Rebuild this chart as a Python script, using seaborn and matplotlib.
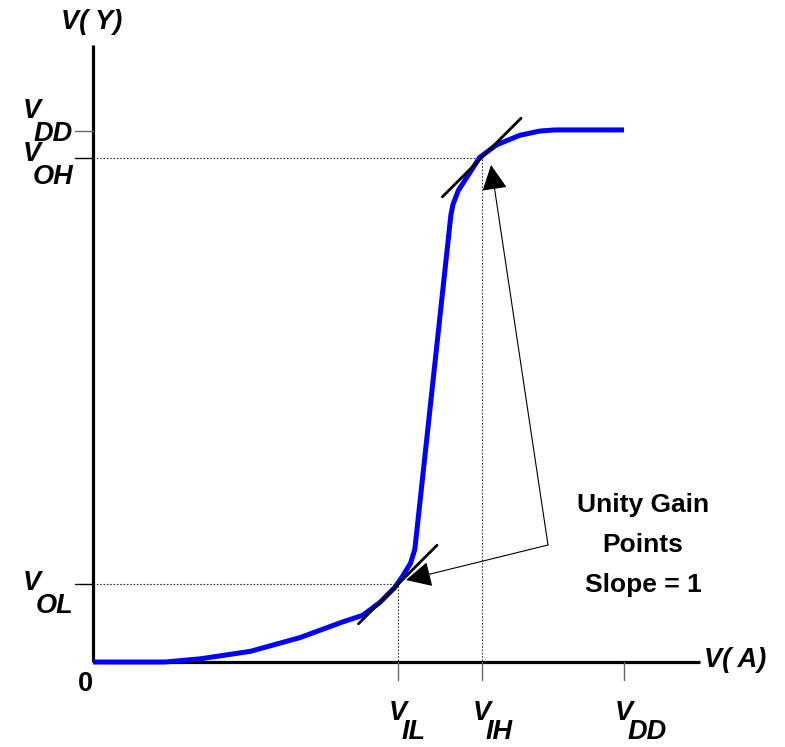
import matplotlib
matplotlib.use("Agg")
import matplotlib.pyplot as plt
import seaborn as sns
import numpy as np

# transfer curve of the inverter, volts (VDD = 5)
v_a = [0.0, 0.68, 1.01, 1.48, 1.95, 2.33, 2.54, 2.70, 2.84, 2.91, 2.99,
       3.03, 3.05, 3.37, 3.39, 3.44, 3.55, 3.64, 3.80, 4.02, 4.21, 4.35, 5.0]
v_y = [0.0, 0.0, 0.03, 0.10, 0.23, 0.37, 0.44, 0.56, 0.70, 0.80, 0.93,
       1.06, 1.24, 4.21, 4.31, 4.44, 4.61, 4.75, 4.87, 4.96, 5.0, 5.01, 5.01]

VDD = 5.0
VIL, VOL = 2.87, 0.73
VIH, VOH = 3.66, 4.75

# tick labels: (main letter, subscript)
y_tick_labels = {"VDD": ("V", "DD"), "VOH": ("V", "OH"), "VOL": ("V", "OL")}
x_tick_labels = {"VIL": ("V", "IL"), "VIH": ("V", "IH"), "VDD": ("V", "DD")}

W, H = 785, 747
X0, Y0 = 93, 662
S = 531 / 5.0  # pixels per volt


def px(x, y):
    # picture pixel -> data coords
    return (x - X0) / S, (Y0 - y) / S


sns.set_theme(style="white")
plt.rcParams['font.family'] = ['Liberation Sans', 'DejaVu Sans']

fig = plt.figure(figsize=(W / 100, H / 100), dpi=100)
ax = fig.add_axes([0, 0, 1, 1])
ax.set_xlim(px(0, 0)[0], px(W, 0)[0])
ax.set_ylim(px(0, H)[1], px(0, 0)[1])
ax.axis("off")

# axes lines
ax.plot([0, 0], [0, px(0, 45)[1]], color="black", lw=2.3, solid_capstyle="butt")
ax.plot([0, px(700, 0)[0]], [0, 0], color="black", lw=2.3, solid_capstyle="butt")

# dotted guides
ax.plot([0, VIH, VIH], [VOH, VOH, 0], color="#333333", lw=0.8, ls=(0, (1.5, 1.5)))
ax.plot([0, VIL, VIL], [VOL, VOL, 0], color="#333333", lw=0.8, ls=(0, (1.5, 1.5)))

# ticks
tk = 18 / S
ax.plot([-tk, 0], [VDD, VDD], color="#666666", lw=1)
ax.plot([-tk, 0], [VOH, VOH], color="black", lw=1)
ax.plot([-tk, 0], [VOL, VOL], color="black", lw=1)
for xv in [VIL, VIH, VDD]:
    ax.plot([xv, xv], [0, -tk], color="#666666", lw=1)

# curve
sns.lineplot(x=v_a, y=v_y, sort=False, color="blue", lw=3.6, ax=ax,
             solid_joinstyle="round", solid_capstyle="butt")

# unity gain tangents
d = 0.37
for xv, yv in [(VIL, VOL), (VIH, VOH)]:
    ax.plot([xv - d, xv + d], [yv - d, yv + d], color="black", lw=2.0,
            solid_capstyle="round")

# arrows to unity gain points
base = px(548, 545)
for tip in [px(491, 165), px(406, 580)]:
    ax.annotate("", xy=tip, xytext=base,
                arrowprops=dict(arrowstyle="-|>,head_length=1.0,head_width=0.5",
                                mutation_scale=16, color="black", lw=0.8,
                                shrinkA=0, shrinkB=0))

fs = 19.5
tx = dict(fontsize=fs, fontweight="bold", fontstyle="italic", color="black")

ax.text(*px(92, 22), "V( Y)", ha="center", va="center", **tx)
ax.text(*px(735, 660), "V( A)", ha="center", va="center", **tx)
ax.text(*px(85, 684), "0", ha="center", va="center", fontsize=fs,
        fontweight="bold", color="black")

# y labels with subscripts
for key, (ypx) in [("VDD", 111), ("VOH", 154), ("VOL", 583)]:
    m, sub = y_tick_labels[key]
    ax.text(*px(32, ypx), m, ha="center", va="center", **tx)
    ax.text(*px(73, ypx + 23), sub, ha="right", va="center", **tx)

# x labels with subscripts
for key, xv in [("VIL", VIL), ("VIH", VIH), ("VDD", VDD)]:
    m, sub = x_tick_labels[key]
    xp = X0 + xv * S
    ax.text(*px(xp, 720), m, ha="center", va="baseline", **tx)
    ax.text(*px(xp + 4, 739), sub, ha="left", va="baseline", **tx)

note = dict(fontsize=19, fontweight="bold", color="black", ha="center", va="center")
ax.text(*px(643, 505), "Unity Gain", **note)
ax.text(*px(643, 545), "Points", **note)
ax.text(*px(643, 585), "Slope = 1", **note)

fig.savefig("out.png", dpi=100)
